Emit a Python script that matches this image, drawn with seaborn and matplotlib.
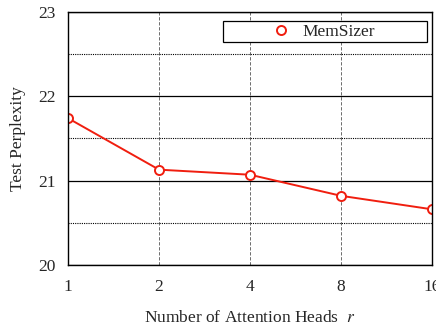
import numpy as np
import pandas as pd
import matplotlib.pyplot as plt
import seaborn as sns
from matplotlib.ticker import MultipleLocator, FixedLocator, NullFormatter
from matplotlib.lines import Line2D
from matplotlib.patches import Rectangle

# data
heads = [1, 2, 4, 8, 16]
perplexity = [21.74, 21.13, 21.07, 20.82, 20.66]

df = pd.DataFrame({"heads": heads, "ppl": perplexity})

sns.set_style("white")
plt.rcParams['font.family'] = ['Liberation Serif', 'DejaVu Serif']
plt.rcParams['mathtext.fontset'] = 'stix'

red = "#f01e0f"
fig = plt.figure(figsize=(4.36, 3.27), dpi=100)
ax = fig.add_axes([0.156, 0.1896, 0.835, 0.774])

sns.lineplot(data=df, x="heads", y="ppl", ax=ax, color=red, lw=1.4,
             marker="o", markersize=6.5, markerfacecolor="white",
             markeredgecolor=red, markeredgewidth=1.4, legend=False)

ax.set_xscale("log", base=2)
ax.set_xlim(1, 16)
ax.xaxis.set_major_locator(FixedLocator(heads))
ax.set_xticklabels([str(h) for h in heads])
ax.xaxis.set_minor_formatter(NullFormatter())
ax.xaxis.set_minor_locator(FixedLocator([]))

ax.set_ylim(20, 23)
ax.yaxis.set_major_locator(MultipleLocator(1))
ax.yaxis.set_minor_locator(MultipleLocator(0.5))

ax.grid(axis="y", which="major", color="black", lw=0.9, ls="-")
ax.grid(axis="y", which="minor", color="black", lw=0.8, ls=(0, (1, 1)))
ax.grid(axis="x", which="major", color="#555555", lw=0.6, ls=(0, (4, 2)))

for s in ax.spines.values():
    s.set_color("black")
    s.set_linewidth(1.0)

ax.tick_params(axis="both", which="both", length=0, labelsize=12.5)
ax.tick_params(axis="x", pad=10)
ax.tick_params(axis="y", pad=9)

ax.set_xlabel("Number of Attention Heads  $r$", fontsize=12.5, labelpad=11)
ax.set_ylabel("Test Perplexity", fontsize=12.5, labelpad=9)

# legend frame drawn as a box, content centred in it
box = Rectangle((0.426, 0.881), 0.56, 0.083, transform=ax.transAxes,
                facecolor="white", edgecolor="black", lw=0.9, zorder=4.5)
ax.add_patch(box)
handle = Line2D([], [], ls="none", marker="o", markersize=6.5,
                markerfacecolor="white", markeredgecolor=red, markeredgewidth=1.4)
leg = ax.legend([handle], ["MemSizer"], loc="center", bbox_to_anchor=(0.70, 0.922),
                frameon=False, fontsize=12.5, handlelength=1.2, handletextpad=0.6,
                borderpad=0.0)

fig.savefig("out.png", dpi=100)
